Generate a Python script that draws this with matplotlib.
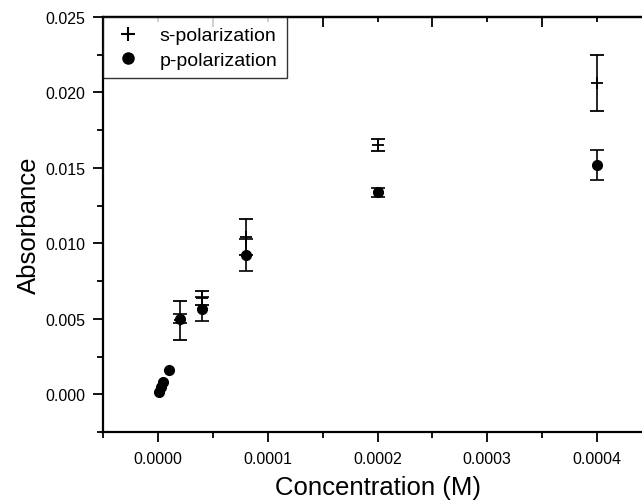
import matplotlib
matplotlib.use("Agg")
import matplotlib.pyplot as plt
from matplotlib.lines import Line2D
from matplotlib.ticker import MultipleLocator, FormatStrFormatter

plt.rcParams['font.family'] = ['Liberation Sans', 'DejaVu Sans']

# s-polarization
s_conc = [0.00002, 0.00004, 0.00008, 0.0002, 0.0004]
s_abs = [0.0049, 0.0064, 0.0104, 0.0165, 0.0206]
s_err = [0.00128, 0.00046, 0.0012, 0.0004, 0.00186]

# p-polarization (low concentrations have no visible error bars)
p_conc_low = [0.000001, 0.000003, 0.000005, 0.00001]
p_abs_low = [0.00013, 0.0005, 0.0008, 0.0016]
p_conc = [0.00002, 0.00004, 0.00008, 0.0002, 0.0004]
p_abs = [0.0050, 0.00564, 0.0092, 0.0134, 0.0152]
p_err = [0.0003, 0.0008, 0.00106, 0.0003, 0.00098]

fig = plt.figure(figsize=(6.42, 5.02), dpi=100)
ax = fig.add_axes([103/642, 69/502, 549/642, 415/502])

ax.errorbar(s_conc, s_abs, yerr=s_err, fmt='+', color='black', ms=9, mew=1.3,
            elinewidth=1.2, capsize=5, capthick=1.2)
ax.errorbar(p_conc, p_abs, yerr=p_err, fmt='o', color='black', ms=7,
            elinewidth=1.2, capsize=5, capthick=1.2)
ax.plot(p_conc_low, p_abs_low, 'o', color='black', ms=7)

ax.set_xlim(-0.00005, 0.00045)
ax.set_ylim(-0.0025, 0.025)
ax.xaxis.set_major_locator(MultipleLocator(0.0001))
ax.xaxis.set_minor_locator(MultipleLocator(0.00005))
ax.yaxis.set_major_locator(MultipleLocator(0.005))
ax.yaxis.set_minor_locator(MultipleLocator(0.0025))
ax.xaxis.set_major_formatter(FormatStrFormatter('%.4f'))
ax.yaxis.set_major_formatter(FormatStrFormatter('%.3f'))

for sp in ['left', 'bottom', 'top']:
    ax.spines[sp].set_linewidth(1.6)
ax.spines['right'].set_visible(False)

ax.tick_params(axis='both', which='both', direction='out', width=1.3, labelsize=11.5)
ax.tick_params(axis='both', which='major', length=7)
ax.tick_params(axis='both', which='minor', length=4)
ax.tick_params(axis='x', pad=7)
ax.tick_params(axis='y', pad=6)

top = ax.secondary_xaxis('top')
top.xaxis.set_major_locator(MultipleLocator(0.0001))
top.xaxis.set_minor_locator(MultipleLocator(0.00005))
top.tick_params(axis='x', which='both', direction='in', width=1.3, labeltop=False)
top.tick_params(axis='x', which='major', length=3.5)
top.tick_params(axis='x', which='minor', length=7)
top.spines['top'].set_linewidth(1.6)

ax.set_xlabel('Concentration (M)', fontsize=18.5, labelpad=6)
ax.set_ylabel('Absorbance', fontsize=18.5, labelpad=3)

handles = [Line2D([], [], ls='none', marker='+', color='black', ms=10, mew=1.5),
           Line2D([], [], ls='none', marker='o', color='black', ms=8)]
leg = ax.legend(handles, ['s-polarization', 'p-polarization'], loc='upper left',
                borderaxespad=0, fontsize=14, frameon=True,
                fancybox=False, edgecolor='black', handlelength=1.6,
                handletextpad=0.8, borderpad=0.5, labelspacing=0.35)
leg.get_frame().set_linewidth(1.0)

fig.savefig('out.png', dpi=100)
